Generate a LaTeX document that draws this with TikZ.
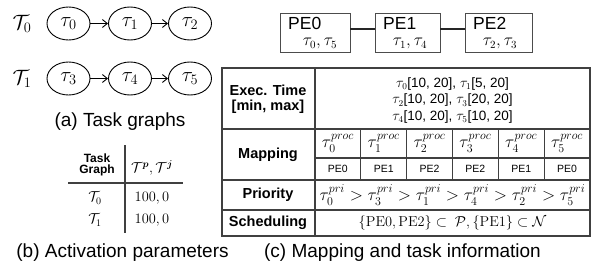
\documentclass[tikz,border=0pt]{standalone}
\usepackage{amsmath}
\usepackage[no-math]{fontspec}
\setmainfont{Liberation Sans}
\usetikzlibrary{arrows.meta,shapes.geometric}
\newcommand{\fs}[1]{\fontsize{#1}{#1}\selectfont}
\begin{document}
\begin{tikzpicture}[x=1pt,y=-1pt,
  task/.style={draw=black,line width=0.9pt,ellipse,minimum width=43pt,minimum height=33pt,inner sep=0pt,font=\fs{21}},
  arr/.style={-{Straight Barb[length=5pt,width=8pt]},line width=0.9pt},
  captxt/.style={font=\fs{19}},
  tlab/.style={font=\fs{20}},
  pebox/.style={draw=black!70,line width=0.9pt,minimum height=39pt,inner sep=0pt},
  pelink/.style={line width=2pt,black!85},
  petxt/.style={font=\fs{17.5},anchor=west,inner sep=0pt},
  petau/.style={font=\fs{16},inner sep=0pt},
  tline/.style={line width=1.4pt,black!75},
  grid/.style={line width=1.1pt,black!75},
  hdr/.style={font=\bfseries\fs{14.5},align=center},
  cell/.style={font=\fs{10.5}},
  mcell/.style={font=\fs{17}}]
\useasboundingbox (0,0) rectangle (600,273);

% (a) task graphs
\node[tlab] (T0) at (22,23.5) {$\mathcal{T}_0$};
\node[tlab] (T1) at (22,78.5) {$\mathcal{T}_1$};
\node[task] (t0) at (68.5,23.5) {$\tau_0$};
\node[task] (t1) at (130,23.5) {$\tau_1$};
\node[task] (t2) at (190,23.5) {$\tau_2$};
\node[task] (t3) at (68.5,78.5) {$\tau_3$};
\node[task] (t4) at (130,78.5) {$\tau_4$};
\node[task] (t5) at (190,78.5) {$\tau_5$};
\draw[arr] (t0) -- (t1);
\draw[arr] (t1) -- (t2);
\draw[arr] (t3) -- (t4);
\draw[arr] (t4) -- (t5);
\node[captxt] (capa) at (120,122) {(a) Task graphs};

% (b) activation parameters
\draw[tline] (125,145) -- (125,233);
\draw[tline] (68,183) -- (183,183);
\node[font=\bfseries\fs{12},align=center] (bh1) at (97,164.5) {Task\\[-1pt]Graph};
\node[font=\fs{14}] (bh2) at (152,168) {$\mathcal{T}^{\boldsymbol{p}},\mathcal{T}^{\boldsymbol{j}}$};
\node[font=\fs{14}] (br1a) at (95,198) {$\mathcal{T}_0$};
\node[font=\fs{14}] (br1b) at (152,198) {$100,0$};
\node[font=\fs{14}] (br2a) at (95,220) {$\mathcal{T}_1$};
\node[font=\fs{14}] (br2b) at (152,220) {$100,0$};
\node[captxt] (capb) at (122.5,253) {(b) Activation parameters};

% PE boxes
\node[pebox,minimum width=70pt] (pe0) at (315,32.5) {};
\node[pebox,minimum width=65pt] (pe1) at (407.5,32.5) {};
\node[pebox,minimum width=67pt] (pe2) at (498.5,32.5) {};
\draw[pelink] ([yshift=3.5pt]pe0.east) -- ([yshift=3.5pt]pe1.west);
\draw[pelink] ([yshift=3.5pt]pe1.east) -- ([yshift=3.5pt]pe2.west);
\node[petxt] (pe0l) at (288,23) {PE0};
\node[petxt] (pe1l) at (383,23) {PE1};
\node[petxt] (pe2l) at (473,23) {PE2};
\node[petau] (pe0t) at (320,43.5) {$\tau_0,\tau_5$};
\node[petau] (pe1t) at (410,43.5) {$\tau_1,\tau_4$};
\node[petau] (pe2t) at (500,43.5) {$\tau_2,\tau_3$};

% (c) table
\draw[grid] (222,68) rectangle (590,236);
\draw[grid] (315,68) -- (315,236);
\draw[grid] (222,129) -- (590,129);
\draw[grid] (315,158) -- (590,158);
\draw[grid] (222,180) -- (590,180);
\draw[grid] (222,210) -- (590,210);
\foreach \i in {1,...,5} {
  \draw[grid] (315+45.833*\i,129) -- (315+45.833*\i,180);
}
\node[hdr] (hexec) at (268,99) {Exec. Time\\[1pt][min, max]};
\node[hdr] (hmap) at (268,155) {Mapping};
\node[hdr] (hpri) at (268,195) {Priority};
\node[hdr] (hsch) at (268,223) {Scheduling};
\node[font=\fs{13.5},align=center] (exec) at (452.5,100.5)
  {$\tau_0$[10, 20], $\tau_1$[5, 20]\\[3pt]$\tau_2$[10, 20], $\tau_3$[20, 20]\\[3pt]$\tau_4$[10, 20], $\tau_5$[10, 20]};
\foreach \k/\pe in {0/PE0,1/PE1,2/PE2,3/PE2,4/PE1,5/PE0} {
  \node[mcell] (m\k) at (337.9+45.833*\k,143.5) {$\tau_{\k}^{proc}$};
  \node[cell] (p\k) at (337.9+45.833*\k,169) {\pe};
}
\node[mcell] (pri) at (452.5,195)
  {$\tau_0^{pri}>\tau_3^{pri}>\tau_1^{pri}>\tau_4^{pri}>\tau_2^{pri}>\tau_5^{pri}$};
\node[font=\fs{14}] (sch) at (452.5,223)
  {$\{\mathrm{PE0},\mathrm{PE2}\}\subset\ \mathcal{P},\{\mathrm{PE1}\}\subset\mathcal{N}$};
\node[captxt] (capc) at (402.5,253) {(c) Mapping and task information};
\end{tikzpicture}
\end{document}
